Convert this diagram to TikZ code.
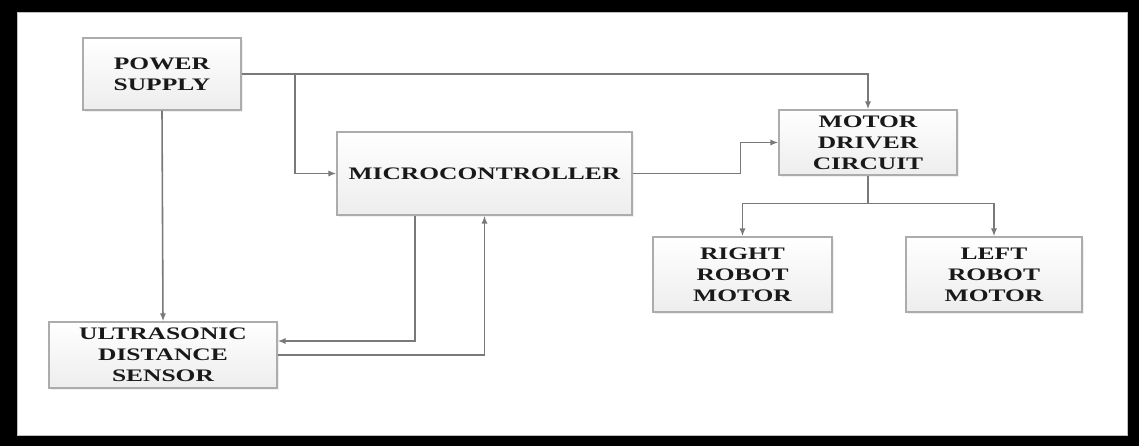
\documentclass[tikz,border=0pt]{standalone}
\usepackage{fontspec}
\newfontfamily\blocfont{Liberation Serif}[FakeStretch=1.45]
\usetikzlibrary{arrows.meta,shadows}
\begin{document}
\begin{tikzpicture}[x=0.02cm, y=-0.02cm,
    bloc/.style={draw=gray!65, line width=0.8pt, top color=white, bottom color=gray!14,
      align=center, inner sep=0pt, text=black!90,
      font=\blocfont\bfseries\fontsize{10}{12}\selectfont,
      drop shadow={opacity=0.12, shadow xshift=1pt, shadow yshift=-1pt}},
    fleche/.style={draw=gray!95!black, line width=0.9pt, -{Latex[length=4.5pt,width=3.5pt]}},
    trait/.style={draw=gray!95!black, line width=0.9pt}]
  % cadre
  \fill[black] (0,0) rectangle (1139,446);
  \draw[gray!50, fill=white] (17,12) rectangle (1127,435);
  % blocs
  \node[bloc, minimum width=3.16cm, minimum height=1.44cm] (power) at (162,74) {POWER\\SUPPLY};
  \node[bloc, minimum width=5.9cm, minimum height=1.66cm] (micro) at (484.5,173.5) {MICROCONTROLLER};
  \node[bloc, minimum width=4.56cm, minimum height=1.32cm] (ultra) at (163,355) {ULTRASONIC\\DISTANCE\\SENSOR};
  \node[bloc, minimum width=3.56cm, minimum height=1.3cm] (driver) at (868,142.5) {MOTOR\\DRIVER\\CIRCUIT};
  \node[bloc, minimum width=3.58cm, minimum height=1.5cm] (right) at (742.5,274.5) {RIGHT\\ROBOT\\MOTOR};
  \node[bloc, minimum width=3.52cm, minimum height=1.5cm] (left) at (994,274.5) {LEFT\\ROBOT\\MOTOR};
  % alimentation
  \draw[fleche] (power.east) -| (driver.north);
  \coordinate (pbranch) at (295,74);
  \draw[fleche] (pbranch) |- (micro.west);
  \draw[fleche] (power.south) -- (ultra.north);
  % capteur <-> microcontroleur
  \draw[fleche] ([xshift=-1.39cm]micro.south) |- ([yshift=0.28cm]ultra.east);
  \draw[fleche] (ultra.east) -| (micro.south);
  % commande moteurs
  \draw[fleche] (micro.east) -- ++(2.16cm,0) |- (driver.west);
  \draw[trait] (driver.south) -- ++(0,-0.56cm) coordinate (split);
  \draw[fleche] (split) -| (right.north);
  \draw[fleche] (split) -| (left.north);
\end{tikzpicture}
\end{document}
